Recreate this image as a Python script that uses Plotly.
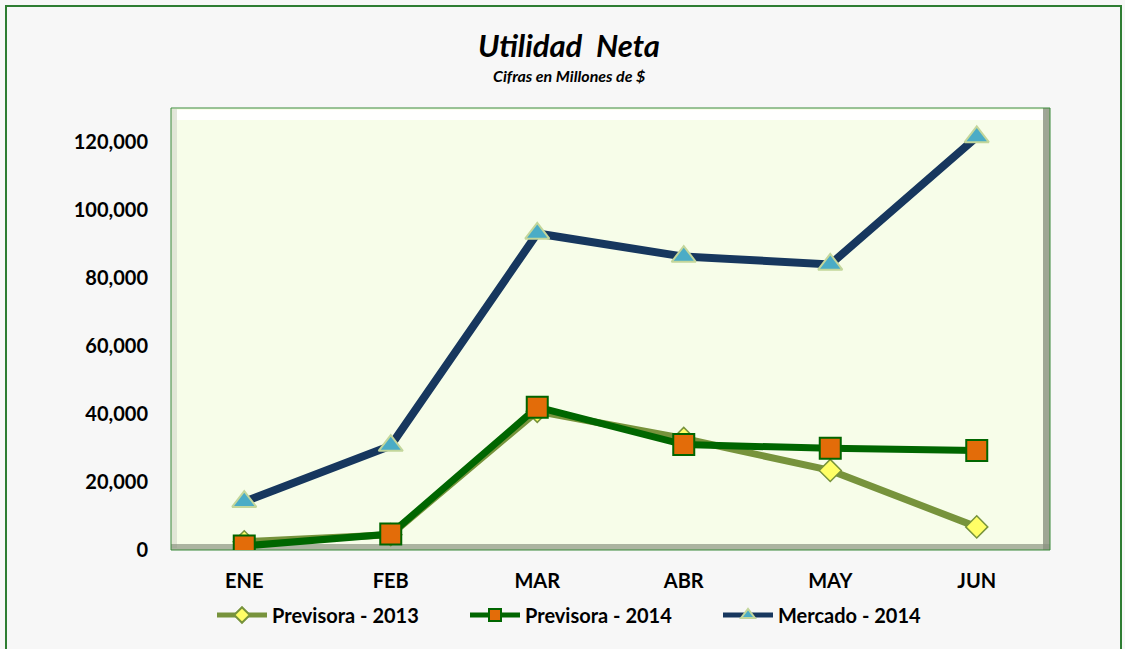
import plotly.graph_objects as go

months = ["ENE", "FEB", "MAR", "ABR", "MAY", "JUN"]
previsora_2013 = [2400, 4500, 40800, 32800, 23400, 6800]
previsora_2014 = [1200, 4700, 42000, 31000, 29900, 29300]
mercado_2014 = [14200, 30700, 93100, 86300, 84000, 121500]
y_ticks = [0, 20000, 40000, 60000, 80000, 100000, 120000]

W, H = 1125, 649
L, R, T, B = 171, 75, 108, 99
pw, ph = W - L - R, H - T - B

def px(x):
    return (x - L) / pw

def py(y):
    return (H - B - y) / ph

fig = go.Figure()
fig.add_trace(go.Scatter(
    x=months, y=previsora_2013, name="Previsora - 2013", mode="lines+markers",
    line=dict(color="#77933C", width=7),
    marker=dict(symbol="diamond", size=17, color="#FFFF66", line=dict(color="#77933C", width=1.5)),
))
fig.add_trace(go.Scatter(
    x=months, y=previsora_2014, name="Previsora - 2014", mode="lines+markers",
    line=dict(color="#006600", width=7),
    marker=dict(symbol="square", size=21, color="#E36C09", line=dict(color="#006600", width=2)),
))
fig.add_trace(go.Scatter(
    x=months, y=mercado_2014, name="Mercado - 2014", mode="lines+markers",
    line=dict(color="#17375E", width=8),
    marker=dict(symbol="triangle-up", size=21, color="#4BACC6", line=dict(color="#C3D69B", width=2)),
))

shapes = [
    # outer chart border
    dict(type="rect", xref="paper", yref="paper", x0=px(6), x1=px(1121), y0=py(700), y1=py(6),
         line=dict(color="#2E7D32", width=2), fillcolor="rgba(0,0,0,0)", layer="below"),
    # bevel: top white strip
    dict(type="rect", xref="paper", yref="paper", x0=px(174), x1=px(1046), y0=py(120), y1=py(110),
         line=dict(width=0), fillcolor="rgba(255,255,255,0.95)", layer="below"),
    # bevel: left light strip
    dict(type="rect", xref="paper", yref="paper", x0=px(171), x1=px(177), y0=py(548), y1=py(109),
         line=dict(width=0), fillcolor="rgba(215,220,205,0.7)", layer="below"),
    # bevel: right gray strip
    dict(type="rect", xref="paper", yref="paper", x0=px(1043), x1=px(1050), y0=py(550), y1=py(108),
         line=dict(width=0), fillcolor="rgba(120,128,110,0.7)", layer="below"),
    # bevel: bottom gray strip
    dict(type="rect", xref="paper", yref="paper", x0=px(171), x1=px(1050), y0=py(550), y1=py(544),
         line=dict(width=0), fillcolor="rgba(140,148,130,0.7)", layer="below"),
    # plot border
    dict(type="rect", xref="paper", yref="paper", x0=0, x1=1, y0=0, y1=1,
         line=dict(color="#3A8A3A", width=1), fillcolor="rgba(0,0,0,0)", layer="below"),
]

fig.update_layout(
    width=W, height=H,
    margin=dict(l=L, r=R, t=T, b=B),
    paper_bgcolor="#F7F7F7",
    plot_bgcolor="#F7FDE9",
    font=dict(family="Lato, Open Sans, sans-serif", color="#000000"),
    showlegend=True,
    legend=dict(orientation="h", x=px(212), xanchor="left", y=py(615), yanchor="middle",
                font=dict(size=20, family="Lato, sans-serif", color="#000", weight="bold"),
                bgcolor="rgba(0,0,0,0)", itemwidth=50, traceorder="normal",
                itemsizing="constant", entrywidth=188, entrywidthmode="pixels"),
    shapes=shapes,
    annotations=[
        dict(text="<b><i>Utilidad  Neta</i></b>", xref="paper", yref="paper", x=px(569), y=py(45),
             xanchor="center", yanchor="middle", showarrow=False, font=dict(size=31, color="#000")),
        dict(text="<b><i>Cifras en Millones de $</i></b>", xref="paper", yref="paper", x=px(569), y=py(75),
             xanchor="center", yanchor="middle", showarrow=False, font=dict(size=16, color="#000")),
    ],
    xaxis=dict(
        range=[-0.5, 5.5],
        showgrid=False, zeroline=False, showline=False,
        tickfont=dict(size=20, color="#000", family="Lato, sans-serif", weight="bold"),
        ticklabelstandoff=17, fixedrange=True,
    ),
    yaxis=dict(
        range=[0, 130000], tickvals=y_ticks,
        ticktext=[f"{v:,}" for v in y_ticks],
        showgrid=False, zeroline=False, showline=False,
        tickfont=dict(size=20, color="#000", family="Lato, sans-serif", weight="bold"),
        ticklabelstandoff=22, fixedrange=True,
    ),
)

fig.write_html("out.html", config={"displayModeBar": False},
               post_script="document.body.style.margin='0';document.body.style.background='#F7F7F7';")
